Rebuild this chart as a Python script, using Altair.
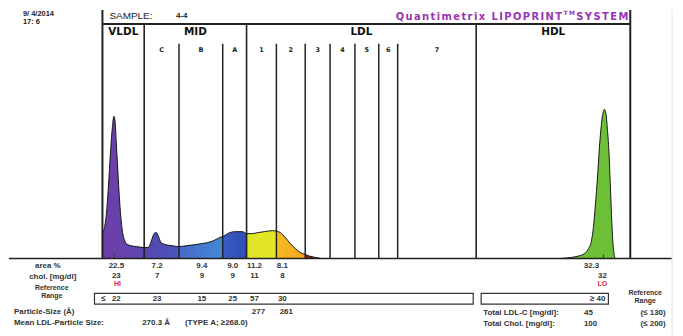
import altair as alt
import pandas as pd

# ---------------- data ----------------
run_date = "9/ 4/2014"
run_time = "17: 6"
sample_id = "4-4"

group_names = ["VLDL", "MID", "LDL", "HDL"]
group_bounds = [99, 141, 244, 475, 630]
sub_names = ["C", "B", "A", "1", "2", "3", "4", "5", "6", "7"]
sub_bounds = [141, 176, 220, 244, 274, 303, 328, 353, 377, 396, 475]

fraction_names = ["VLDL", "MID-C", "MID-B", "MID-A", "LDL-1", "LDL-2", "LDL-3"]
fraction_bounds = [99, 141, 176, 220, 244, 274, 303, 328]

curve_pos = [99, 101, 103, 105, 107, 109, 110.5, 111.5, 113, 114.5,
             116, 117.5, 119, 121, 123, 127, 133, 141, 145, 148,
             150, 152, 153.5, 155, 158, 162, 168, 176, 185, 193,
             199, 205, 211, 217, 220, 227, 233, 240, 244, 250,
             255, 262, 270, 274, 278, 283, 288, 293, 298, 303,
             307, 311, 315, 319]
curve_abs = [25, 31, 45, 72, 105, 132, 143, 140, 115, 88,
             62, 42, 28, 19, 15, 13, 12, 11, 11, 17,
             23, 26, 26, 23, 16, 14, 13, 12, 13, 14,
             15, 16, 18, 21, 22, 26, 27, 27, 25, 25,
             26, 27, 28, 27.5, 26, 21, 15, 10, 6, 4,
             2.5, 1.5, 0.7, 0]
hdl_pos = [560, 570, 578, 584, 588, 591, 593, 595, 597, 599, 601, 602.5,
           604, 605.5, 607, 608.5, 610, 611.5, 613, 614, 615]
hdl_abs = [0, 1, 2.5, 5, 10, 18, 32, 55, 81, 112, 135, 146,
           150, 146, 130, 108, 72, 35, 10, 3, 0]
peak_marks = [111, 603]

area_pct = ["22.5", "7.2", "9.4", "9.0", "11.2", "8.1"]
chol_mg = ["23", "7", "9", "9", "11", "8"]
ref_max = ["22", "23", "15", "25", "57", "30"]
particle_size = ["", "", "", "", "277", "261"]
hdl_area_pct = "32.3"
hdl_chol = "32"
hdl_ref_min = "40"
mean_ldl_size = "270.3 Å"
ldl_type = "(TYPE A; ≥268.0)"
total_ldl_c = "45"
total_ldl_ref = "(≤ 130)"
total_chol = "100"
total_chol_ref = "(≤ 200)"

# ---------------- layout / style ----------------
BASE = 258
def up(img_y):
    return BASE - img_y

W, H = 667, 320
xs = alt.Scale(domain=[8, 8 + W], nice=False, zero=False)
ys = alt.Scale(domain=[up(8 + H), up(8)], nice=False, zero=False)

fill_grad = {
    "VLDL": ["#6e3ea8", "#5c47b0"],
    "MID-C": ["#5646b0", "#4a56bc"],
    "MID-B": ["#4868c6", "#4489d6"],
    "MID-A": ["#3a5cc2", "#2f4db4"],
    "LDL-1": ["#e0e62a", "#e4e622"],
    "LDL-2": ["#f6bc20", "#f2a41c"],
    "LDL-3": ["#8e1c1c", "#741414"],
}

layers = []

curve = pd.DataFrame({"x": curve_pos, "h": curve_abs})
for i, name in enumerate(fraction_names):
    lo, hi = fraction_bounds[i], fraction_bounds[i + 1]
    seg = curve[(curve.x >= lo) & (curve.x <= hi)]
    c0, c1 = fill_grad[name]
    grad = alt.LinearGradient(gradient="linear", x1=0, x2=1, y1=0, y2=0,
                              stops=[alt.GradientStop(color=c0, offset=0),
                                     alt.GradientStop(color=c1, offset=1)])
    layers.append(alt.Chart(seg).mark_area(color=grad, interpolate="monotone").encode(
        x=alt.X("x:Q", scale=xs, axis=None),
        y=alt.Y("h:Q", scale=ys, axis=None),
        y2=alt.datum(0)))

hdl = pd.DataFrame({"x": hdl_pos, "h": hdl_abs})
layers.append(alt.Chart(hdl).mark_area(color="#6cbf36", interpolate="monotone").encode(
    x=alt.X("x:Q", scale=xs, axis=None),
    y=alt.Y("h:Q", scale=ys, axis=None),
    y2=alt.datum(0)))

# frame & band lines
rules = []
for xv in [group_bounds[0], group_bounds[-1]]:
    rules.append(dict(x=xv, x2=xv, y=0, y2=up(8), w=2, c="#222"))
for xv in group_bounds[1:-1]:
    rules.append(dict(x=xv, x2=xv, y=0, y2=up(22), w=1.6, c="#222"))
for xv in sub_bounds[1:-1]:
    if xv not in group_bounds:
        rules.append(dict(x=xv, x2=xv, y=0, y2=up(42), w=1.5, c="#222"))
rules.append(dict(x=group_bounds[0], x2=group_bounds[-1], y=up(22), y2=up(22), w=2, c="#222"))
rules.append(dict(x=5, x2=672, y=0, y2=0, w=1.6, c="#222"))
rules.append(dict(x=672, x2=672, y=up(8), y2=up(336), w=1, c="#e4e4e4"))
for xv in peak_marks:
    rules.append(dict(x=xv, x2=xv, y=0, y2=4, w=1, c="#333"))
rdf = pd.DataFrame(rules)
layers.append(alt.Chart(rdf).mark_rule().encode(
    x=alt.X("x:Q", scale=xs, axis=None), x2="x2:Q",
    y=alt.Y("y:Q", scale=ys, axis=None), y2="y2:Q",
    strokeWidth=alt.StrokeWidth("w:Q", scale=None),
    color=alt.Color("c:N", scale=None)))

# curve outlines
outline = pd.concat([curve.assign(p="a"), hdl.assign(p="b")])
layers.append(alt.Chart(outline).mark_line(color="#151515", strokeWidth=1, interpolate="monotone").encode(
    x=alt.X("x:Q", scale=xs, axis=None),
    y=alt.Y("h:Q", scale=ys, axis=None),
    detail="p:N"))

# reference boxes
boxes = pd.DataFrame([dict(x=91, x2=472, y=up(293), y2=up(304)),
                      dict(x=480, x2=608, y=up(293), y2=up(304))])
layers.append(alt.Chart(boxes).mark_rect(fill=None, stroke="#333", strokeWidth=1.2).encode(
    x=alt.X("x:Q", scale=xs, axis=None), x2="x2:Q",
    y=alt.Y("y:Q", scale=ys, axis=None), y2="y2:Q"))


def txt(rows, size=8, weight="bold", color="#333", align="center", font="Liberation Sans"):
    df = pd.DataFrame([dict(x=r[0], y=up(r[1]), t=r[2]) for r in rows])
    return alt.Chart(df).mark_text(fontSize=size, fontWeight=weight, color=color, align=align,
                                   baseline="middle", font=font).encode(
        x=alt.X("x:Q", scale=xs, axis=None),
        y=alt.Y("y:Q", scale=ys, axis=None),
        text="t:N")

# header
layers.append(txt([(19, 12, run_date), (19, 20.5, run_time)], size=7.5, align="left", color="#222"))
layers.append(txt([(106, 14, "SAMPLE:")], size=10, weight="normal", align="left", color="#222"))
layers.append(txt([(173, 14, sample_id)], size=8, align="left", color="#222"))

gl = [((group_bounds[i] + group_bounds[i + 1]) / 2, 30, n) for i, n in enumerate(group_names)]
layers.append(txt(gl, size=10.5, color="#111", font="DejaVu Sans"))
sl = [((sub_bounds[i] + sub_bounds[i + 1]) / 2, 48, n) for i, n in enumerate(sub_names)]
layers.append(txt(sl, size=6.5, color="#222", font="DejaVu Sans"))

# purple title "Quantimetrix LIPOPRINT(TM) SYSTEM", letter spaced across its span
em = {"Q": .852, "u": .712, "a": .675, "n": .712, "t": .478, "i": .343, "m": 1.042, "e": .678,
      "r": .493, "x": .649, "L": .640, "I": .371, "P": .731, "O": .850, "R": .770, "N": .837,
      "T": .685, "S": .720, "Y": .726, "E": .683, "M": .993, " ": .348}
TFS, SFS = 10, 6
tokens = [(c, TFS, 15) for c in "Quantimetrix LIPOPRINT"] + [(c, SFS, 11) for c in "TM"] + \
         [(c, TFS, 15) for c in "SYSTEM"]
span0, span1 = 394, 628
natural = sum(em[c] * fs for c, fs, _ in tokens)
gap = (span1 - span0 - natural) / (len(tokens) - 1)
big_rows, small_rows = [], []
pos = span0
for c, fs, yy in tokens:
    if c != " ":
        (big_rows if fs == TFS else small_rows).append((pos, yy, c))
    pos += em[c] * fs + gap
layers.append(txt(big_rows, size=TFS, color="#9b34b3", align="left", font="DejaVu Sans"))
layers.append(txt(small_rows, size=SFS, color="#9b34b3", align="left", font="DejaVu Sans"))

# table
cols = [113, 154, 199, 230, 252, 280]
layers.append(txt([(44, 266, "area %"), (49, 277, "chol. [mg/dl]")]))
layers.append(txt([(48, 288, "Reference"), (48, 296, "Range"), (645, 293, "Reference"), (645, 301, "Range")], size=7))
layers.append(txt([(c, 266, v) for c, v in zip(cols, area_pct)] + [(591, 266, hdl_area_pct)]))
layers.append(txt([(c, 276, v) for c, v in zip(cols, chol_mg)] + [(602, 276, hdl_chol)]))
layers.append(txt([(114, 284, "HI"), (602, 284, "LO")], size=7, color="#d8243c"))
layers.append(txt([(100, 299, "≤")] + [(c, 299, v) for c, v in zip(cols, ref_max)]))
layers.append(txt([(605, 299, "≥ " + hdl_ref_min)], align="right"))
layers.append(txt([(c + 4, 312, v) for c, v in zip(cols, particle_size) if v]))
layers.append(txt([(10, 312, "Particle-Size (Å)"), (10, 323, "Mean LDL-Particle Size:"),
                   (139, 323, mean_ldl_size), (182, 323, ldl_type),
                   (482, 313, "Total LDL-C [mg/dl]:"), (482, 324, "Total Chol. [mg/dl]:")], align="left"))
layers.append(txt([(588, 313, total_ldl_c), (590, 324, total_chol),
                   (653, 313, total_ldl_ref), (653, 324, total_chol_ref)]))

chart = alt.layer(*layers).properties(width=W, height=H, padding=0, background="white").configure_view(strokeWidth=0)
chart.save("out.html", embed_options={"renderer": "svg", "actions": False})
